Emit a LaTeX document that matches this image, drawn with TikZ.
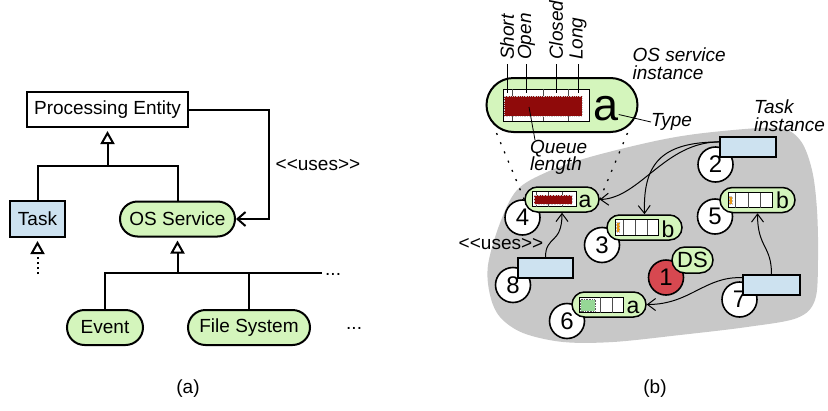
\documentclass[tikz,border=0pt]{standalone}
\usepackage{fontspec}
\setmainfont{Liberation Sans}
\usetikzlibrary{arrows.meta}
\definecolor{lgreen}{RGB}{212,245,188}
\definecolor{lblue}{RGB}{205,226,240}
\definecolor{blobc}{RGB}{200,200,200}
\definecolor{dred}{RGB}{143,10,10}
\definecolor{cred}{RGB}{215,72,80}
\definecolor{qorange}{RGB}{230,150,20}
\definecolor{qgreen}{RGB}{150,215,150}
\begin{document}
\begin{tikzpicture}[x=1pt,y=-1pt,
  font=\fontsize{19}{17.5}\selectfont,
  lineA/.style={line width=2pt},
  pebox/.style={draw, line width=2pt, minimum width=161pt, minimum height=35pt, inner sep=0},
  taskA/.style={draw, fill=lblue, line width=2pt, minimum width=55pt, minimum height=36pt, inner sep=0},
  svcA/.style={draw, fill=lgreen, line width=2pt, rounded corners=17.5pt, minimum height=35pt, inner sep=0},
  inh/.style={line width=2pt, -{Triangle[open, length=13pt, width=14pt, fill=white]}, shorten >=3pt},
  lab/.style={font=\fontsize{19}{17.5}\selectfont\itshape, inner sep=0},
  inst/.style={draw, fill=lgreen, line width=1.5pt, rounded corners=12.5pt, minimum height=25pt, inner sep=0},
  numc/.style={circle, draw, fill=white, line width=1.6pt, minimum size=35pt, inner sep=0, font=\fontsize{24}{24}\selectfont},
  taskB/.style={draw, fill=lblue, line width=1.5pt, minimum width=56pt, minimum height=20pt, inner sep=0},
  qbox/.style={draw, fill=white, line width=1pt, inner sep=0},
  qdiv/.style={draw=gray!60!black, line width=1pt},
  let/.style={font=\fontsize{23}{23}\selectfont, inner sep=0, anchor=base west},
  usearr/.style={line width=1pt, -{Straight Barb[length=8pt, width=12pt]}},
  zoomline/.style={line width=1.3pt, dash pattern=on 2pt off 8pt}
]
\useasboundingbox (0,0) rectangle (828,410);

% ---------------- (a) ----------------
\node[pebox] (pe) at (107.5,109.5) {Processing Entity};
\node[taskA] (task) at (37.5,219) {Task};
\node[svcA, minimum width=115pt] (os) at (177.5,219) {OS Service};
\node[svcA, minimum width=76pt] (ev) at (105,327.5) {Event};
\node[svcA, minimum width=122pt] (fs) at (249,327.5) {File System};
\coordinate (j1) at (107.5,166);
\draw[lineA] (task.north) |- (j1) -| (os.north);
\draw[inh] (j1) -- (pe.south);
\coordinate (j2) at (177.5,273);
\coordinate (hr) at (322,273);
\draw[lineA] (ev.north) |- (hr);
\draw[lineA] (fs.north) -- (fs.north |- hr);
\draw[inh] (j2) -- (os.south);
\node[anchor=base west, inner sep=0] (dotsA) at (325,275) {...};
\node[anchor=base west, inner sep=0] (dotsB) at (346,329) {...};
\coordinate (td) at (37.5,274);
\coordinate (tb) at (37.5,253);
\draw[lineA, dash pattern=on 2pt off 3pt] (td) -- (tb);
\draw[inh] (tb) -- (task.south);
\draw[lineA, -{Straight Barb[length=8pt,width=14pt]}] (pe.east) -- ++(80,0) |- (os.east);
\node (usesA) at (318,165) {<{}<uses>{}>};
\node (capA) at (188,389) {(a)};

% ---------------- (b) ----------------
\fill[blobc] plot[smooth cycle, tension=0.55] coordinates {
 (488,265) (500,223) (517,190) (547,172) (590,157) (660,140) (713,132)
 (777,128) (800,140) (812,170) (817,210) (818,260) (815,300) (797,318)
 (747,327) (680,335) (613,342) (563,342) (523,333) (500,317) (490,295)};

% big OS service instance
\node[draw, fill=lgreen, line width=2pt, rounded corners=27pt, minimum width=151pt, minimum height=54pt, inner sep=0] (big) at (562,105) {};
\node[qbox, minimum width=86pt, minimum height=32pt] (q) at (546,105) {};
\foreach \x in {512,543,568} \draw[qdiv] (\x,89) -- (\x,121);
\draw[fill=dred, draw=gray!40, densely dotted, line width=0.8pt] (504,96) rectangle (582,116);
\node[font=\fontsize{45}{45}\selectfont, inner sep=0] (biga) at (606,108.5) {a};

\node[lab, rotate=90, anchor=west] (ls) at (507,60) {Short};
\node[lab, rotate=90, anchor=west] (lo) at (526.5,60) {Open};
\node[lab, rotate=90, anchor=west] (lc) at (556,60) {Closed};
\node[lab, rotate=90, anchor=west] (ll) at (578,60) {Long};
\draw[line width=0.8pt, shorten >=-4pt] ([yshift=-4pt]ls.west) -- (ls.west |- q.north);
\draw[line width=0.8pt, shorten >=-4pt] ([yshift=-4pt]lo.west) -- (lo.west |- q.north);
\draw[line width=0.8pt, shorten >=-4pt] ([yshift=-4pt]lc.west) -- (lc.west |- q.north);
\draw[line width=0.8pt, shorten >=-4pt] ([yshift=-4pt]ll.west) -- (ll.west |- q.north);

\node[lab, anchor=west, align=left] (osi) at (632.5,63.5) {OS service\\instance};
\node[lab, anchor=west] (type) at (651,122) {Type};
\draw[line width=0.8pt] ([yshift=-6pt]biga.east) -- (type.west);
\node[lab, anchor=west, align=left] (ql) at (530,157.5) {Queue\\length};
\coordinate (qp) at (529,107);
\draw[line width=0.8pt] (qp) -- ([xshift=5pt]ql.north west);
\node[lab, anchor=west, align=left] (ti) at (754,115.5) {Task\\instance};

% numbered circles
\node[numc] (c2) at (715.5,164.5) {2};
\node[numc] (c4) at (522.5,217.5) {4};
\node[numc] (c3) at (602,245) {3};
\node[numc] (c5) at (715,216.5) {5};
\node[numc, fill=cred] (c1) at (666,277.5) {1};
\node[numc] (c8) at (513,285) {8};
\node[numc] (c7) at (739.5,299.5) {7};
\node[numc] (c6) at (567,321) {6};

% zoom lines
\node[inst, minimum width=74pt] (n4) at (562,199.5) {};
\draw[zoomline] ([xshift=11pt]big.south west) -- (n4.west);
\draw[zoomline] ([xshift=-11pt]big.south east) -- (n4.east);

% instance 4
\node[qbox, minimum width=44pt, minimum height=15pt] (q4) at (554.7,199.2) {};
\foreach \x in {536,548,562} \draw[qdiv] (\x,191.7) -- (\x,206.7);
\draw[fill=dred, draw=gray!40, densely dotted, line width=0.6pt] (534,195) rectangle (572,204);
\node[let] (a4) at (578.5,207) {a};

% instance 3
\node[inst, minimum width=75pt] (n3) at (644.5,227.5) {};
\node[qbox, minimum width=43pt, minimum height=15.5pt] (q3) at (636.5,227.25) {};
\foreach \x in {623,635,647} \draw[qdiv] (\x,219.5) -- (\x,235);
\draw[fill=qorange, draw=gray!50, densely dotted, line width=0.5pt] (616.5,222) rectangle (619.5,232);
\node[let] (b3) at (661.5,237) {b};

% instance 5
\node[inst, minimum width=75pt] (n5) at (757.5,200) {};
\node[qbox, minimum width=44pt, minimum height=15pt] (q5) at (750,200) {};
\foreach \x in {735,748,760} \draw[qdiv] (\x,192.5) -- (\x,207.5);
\draw[fill=qorange, draw=gray!50, densely dotted, line width=0.5pt] (729,196) rectangle (732,204);
\node[let] (b5) at (776,208) {b};

% instance 6
\node[inst, minimum width=74pt] (n6) at (609,304.5) {};
\node[qbox, minimum width=44pt, minimum height=15.5pt] (q6) at (601,304.75) {};
\foreach \x in {600,612} \draw[qdiv] (\x,297) -- (\x,312.5);
\draw[fill=qgreen, draw=gray!70!black, densely dotted, line width=0.6pt] (580.5,299.5) rectangle (595,311);
\node[let] (a6) at (626.5,313) {a};

% DS
\node[inst, minimum width=41pt, minimum height=26pt, rounded corners=13pt, font=\fontsize{22}{22}\selectfont] (ds) at (692.5,260) {DS};

% task instances
\node[taskB] (t2) at (748,147) {};
\node[taskB, minimum width=55pt] (t8) at (545.5,268) {};
\node[taskB, minimum width=57pt] (t7) at (771.5,285) {};

% uses arrows
\draw[usearr] (t2.170) .. controls (665,142) and (640,198) .. (n4.east);
\draw[usearr] (t2.170) .. controls (660,142) and (643,165) .. (n3.north);
\draw[usearr] (t8.north) .. controls (545.5,235) and (562,245) .. (n4.south);
\draw[usearr] (t7.north) .. controls (771.5,245) and (757.5,248) .. (n5.south);
\draw[usearr] (t7.166) .. controls (705,276) and (690,304.5) .. (n6.east);

\node (usesB) at (501,244) {<{}<uses>{}>};
\node (capB) at (655,389) {(b)};
\end{tikzpicture}
\end{document}
